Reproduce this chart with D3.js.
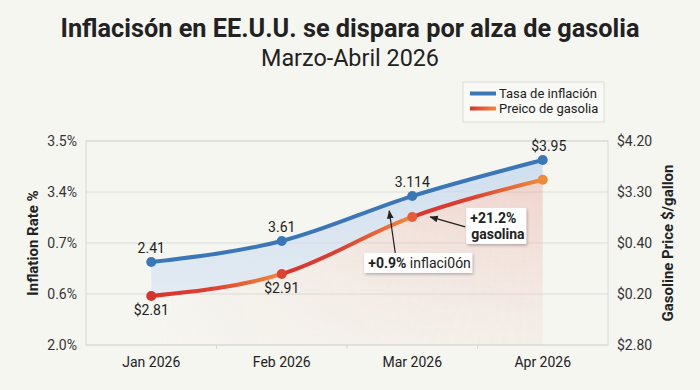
<!DOCTYPE html>
<html>
<head>
<meta charset="utf-8">
<script src="https://cdn.jsdelivr.net/npm/d3@7"></script>
<style>
  body { margin: 0; background: #f6f6f1; }
  svg { display: block; font-family: Roboto, "Noto Sans", sans-serif; }
</style>
</head>
<body>
<svg id="chart" width="700" height="390"></svg>
<script>
const months = ["Jan 2026", "Feb 2026", "Mar 2026", "Apr 2026"];
const inflation = [2.61, 2.765, 3.095, 3.36];
const gasoline = [3.136, 3.287, 3.679, 3.934];
const inflLabels = ["2.41", "3.61", "3.114", "$3.95"];
const gasLabels = ["$2.81", "$2.91", "", ""];
const leftTicks = [2.0, 2.375, 2.75, 3.125, 3.5];
const leftTickLabels = ["2.0%", "0.6%", "0.7%", "3.4%", "3.5%"];
const rightTicks = [2.8, 3.15, 3.5, 3.85, 4.2];
const rightTickLabels = ["$2.80", "$0.20", "$0.40", "$3.30", "$4.20"];

const W = 700, H = 390;
const margin = {top: 141, right: 92, bottom: 45, left: 86};
const width = W - margin.left - margin.right,
      height = H - margin.top - margin.bottom;

const BLUE = "#3b77b6", RED = "#d6352e", ORANGE = "#f08a3b";

const svg = d3.select("#chart");
const defs = svg.append("defs");

// drop shadow for callouts
const sh = defs.append("filter").attr("id", "shadow")
  .attr("x", "-20%").attr("y", "-30%").attr("width", "150%").attr("height", "170%");
sh.append("feDropShadow").attr("dx", 1).attr("dy", 1.5)
  .attr("stdDeviation", 1.5).attr("flood-color", "#000").attr("flood-opacity", 0.28);

svg.append("text")
  .attr("x", W / 2).attr("y", 37)
  .attr("text-anchor", "middle")
  .attr("font-size", 26).attr("font-weight", 700).attr("fill", "#222")
  .attr("textLength", 579).attr("lengthAdjust", "spacingAndGlyphs")
  .text("Inflacisón en EE.U.U. se dispara por alza de gasolia");
svg.append("text")
  .attr("x", W / 2).attr("y", 66)
  .attr("text-anchor", "middle")
  .attr("font-size", 24).attr("fill", "#222")
  .attr("textLength", 178).attr("lengthAdjust", "spacingAndGlyphs")
  .text("Marzo-Abril 2026");

const g = svg.append("g")
  .attr("transform", "translate(" + margin.left + "," + margin.top + ")");

const x = d3.scaleBand().domain(months).range([0, width]);
const cx = d => x(d) + x.bandwidth() / 2;
const yL = d3.scaleLinear().domain([2.0, 3.5]).range([height, 0]);
const yR = d3.scaleLinear().domain([2.8, 4.2]).range([height, 0]);

// grid + frame
g.append("g").selectAll("line").data(leftTicks).enter().append("line")
  .attr("x1", 0).attr("x2", width)
  .attr("y1", d => yL(d)).attr("y2", d => yL(d))
  .attr("stroke", "#dcdcd8").attr("stroke-width", 1);
g.append("rect").attr("width", width).attr("height", height)
  .attr("fill", "none").attr("stroke", "#d8d8d4");
g.append("g").selectAll("line").data(months.slice(1)).enter().append("line")
  .attr("x1", d => x(d)).attr("x2", d => x(d))
  .attr("y1", height).attr("y2", height + 4)
  .attr("stroke", "#d8d8d4");

const pts = months.map((m, i) => ({m, infl: inflation[i], gas: gasoline[i], i}));

// fills
const lg1 = defs.append("linearGradient").attr("id", "blueFill")
  .attr("gradientUnits", "userSpaceOnUse")
  .attr("x1", 0).attr("y1", 0).attr("x2", 0).attr("y2", height);
lg1.append("stop").attr("offset", "0%").attr("stop-color", "#c4d8ee").attr("stop-opacity", 0.85);
lg1.append("stop").attr("offset", "100%").attr("stop-color", "#dfe9f3").attr("stop-opacity", 0.6);

const lg2 = defs.append("linearGradient").attr("id", "pinkFill")
  .attr("gradientUnits", "userSpaceOnUse")
  .attr("x1", 0).attr("y1", yR(d3.max(gasoline))).attr("x2", 0).attr("y2", height);
lg2.append("stop").attr("offset", "0%").attr("stop-color", "#e6aaa0").attr("stop-opacity", 0.45);
lg2.append("stop").attr("offset", "100%").attr("stop-color", "#efd8d2").attr("stop-opacity", 0.25);

const mg = defs.append("linearGradient").attr("id", "fadeX")
  .attr("gradientUnits", "userSpaceOnUse")
  .attr("x1", cx(months[0])).attr("y1", 0).attr("x2", cx(months[3])).attr("y2", 0);
mg.append("stop").attr("offset", "0%").attr("stop-color", "#fff").attr("stop-opacity", 0.05);
mg.append("stop").attr("offset", "60%").attr("stop-color", "#fff").attr("stop-opacity", 0.8);
mg.append("stop").attr("offset", "100%").attr("stop-color", "#fff").attr("stop-opacity", 1);
defs.append("mask").attr("id", "fadeMask")
  .append("rect").attr("x", 0).attr("y", 0).attr("width", width).attr("height", height)
  .attr("fill", "url(#fadeX)");

g.append("path").datum(pts)
  .attr("fill", "url(#pinkFill)").attr("mask", "url(#fadeMask)")
  .attr("d", d3.area().curve(d3.curveMonotoneX)
    .x(d => cx(d.m)).y0(height).y1(d => yR(d.gas)));

g.append("path").datum(pts)
  .attr("fill", "url(#blueFill)")
  .attr("d", d3.area().curve(d3.curveMonotoneX)
    .x(d => cx(d.m)).y0(d => yR(d.gas)).y1(d => yL(d.infl)));

// gasoline line: each segment red -> orange
const gasLine = d3.line().curve(d3.curveMonotoneX).x(d => cx(d.m)).y(d => yR(d.gas));
for (let i = 0; i < pts.length - 1; i++) {
  const x0 = cx(pts[i].m), x1 = cx(pts[i + 1].m);
  const gr = defs.append("linearGradient").attr("id", "seg" + i)
    .attr("gradientUnits", "userSpaceOnUse")
    .attr("x1", x0).attr("y1", 0).attr("x2", x1).attr("y2", 0);
  gr.append("stop").attr("offset", "0%").attr("stop-color", RED);
  gr.append("stop").attr("offset", "45%").attr("stop-color", "#dc4030");
  gr.append("stop").attr("offset", "100%").attr("stop-color", ORANGE);
  defs.append("clipPath").attr("id", "clip" + i)
    .append("rect").attr("x", x0).attr("y", -20).attr("width", x1 - x0).attr("height", height + 40);
  g.append("path").datum(pts)
    .attr("fill", "none").attr("stroke", "url(#seg" + i + ")")
    .attr("stroke-width", 4).attr("stroke-linecap", "round")
    .attr("clip-path", "url(#clip" + i + ")")
    .attr("d", gasLine);
}

g.append("path").datum(pts)
  .attr("fill", "none").attr("stroke", BLUE).attr("stroke-width", 4)
  .attr("d", d3.line().curve(d3.curveMonotoneX).x(d => cx(d.m)).y(d => yL(d.infl)));

const ptColor = d3.scaleLinear().domain([0, 1, 2, 3])
  .range([RED, "#dc4532", "#e65d36", ORANGE]);
g.selectAll(".gpt").data(pts).enter().append("circle")
  .attr("cx", d => cx(d.m)).attr("cy", d => yR(d.gas)).attr("r", 5)
  .attr("fill", d => ptColor(d.i));
g.selectAll(".ipt").data(pts).enter().append("circle")
  .attr("cx", d => cx(d.m)).attr("cy", d => yL(d.infl)).attr("r", 5)
  .attr("fill", BLUE);

// point labels
g.selectAll(".il").data(pts).enter().append("text")
  .attr("x", d => cx(d.m) + (d.i === 3 ? 6 : 0))
  .attr("y", d => yL(d.infl) - 9)
  .attr("text-anchor", "middle").attr("font-size", 14).attr("fill", "#222")
  .text(d => inflLabels[d.i]);
g.selectAll(".gl").data(pts).enter().append("text")
  .attr("x", d => cx(d.m)).attr("y", d => yR(d.gas) + 19)
  .attr("text-anchor", "middle").attr("font-size", 14).attr("fill", "#222")
  .text(d => gasLabels[d.i]);

// axes
const axL = g.append("g").call(d3.axisLeft(yL).tickValues(leftTicks)
  .tickFormat((d, i) => leftTickLabels[i]).tickSize(0).tickPadding(9));
const axR = g.append("g").attr("transform", "translate(" + width + ",0)")
  .call(d3.axisRight(yR).tickValues(rightTicks)
  .tickFormat((d, i) => rightTickLabels[i]).tickSize(0).tickPadding(9));
const axB = g.append("g").attr("transform", "translate(0," + height + ")")
  .call(d3.axisBottom(x).tickSize(0).tickPadding(12));
[axL, axR, axB].forEach(a => {
  a.select(".domain").remove();
  a.selectAll("text").attr("font-size", 14).attr("fill", "#333")
    .attr("font-family", "Roboto, sans-serif");
});
axB.selectAll("text").attr("fill", "#222");

svg.append("text")
  .attr("transform", "translate(38," + (margin.top + height / 2) + ") rotate(-90)")
  .attr("text-anchor", "middle").attr("font-size", 15).attr("font-weight", 700).attr("fill", "#222")
  .text("Inflation Rate %");
svg.append("text")
  .attr("transform", "translate(673," + (margin.top + height / 2) + ") rotate(-90)")
  .attr("text-anchor", "middle").attr("font-size", 15).attr("font-weight", 700).attr("fill", "#222")
  .text("Gasoline Price $/gallon");

// legend
const leg = svg.append("g").attr("transform", "translate(463,82)");
leg.append("rect").attr("width", 141).attr("height", 40)
  .attr("fill", "#f9f9f6").attr("stroke", "#dcdcd8");
const lgl = defs.append("linearGradient").attr("id", "legGas");
lgl.append("stop").attr("offset", "0%").attr("stop-color", RED);
lgl.append("stop").attr("offset", "100%").attr("stop-color", ORANGE);
leg.append("rect").attr("x", 7).attr("y", 9.5).attr("width", 26).attr("height", 4).attr("fill", BLUE);
leg.append("rect").attr("x", 7).attr("y", 24.5).attr("width", 26).attr("height", 4).attr("fill", "url(#legGas)");
leg.append("text").attr("x", 36).attr("y", 16).attr("font-size", 13).attr("fill", "#222").text("Tasa de inflación");
leg.append("text").attr("x", 36).attr("y", 31).attr("font-size", 13).attr("fill", "#222").text("Preico de gasolia");

// callouts
defs.append("marker").attr("id", "arr").attr("viewBox", "0 0 10 10")
  .attr("refX", 9).attr("refY", 5).attr("markerWidth", 7).attr("markerHeight", 7)
  .attr("orient", "auto-start-reverse")
  .append("path").attr("d", "M0,1 L10,5 L0,9 z").attr("fill", "#222");

const mx = cx(months[2]);
const gasMar = yR(gasoline[2]);
const c1 = g.append("g").attr("transform", "translate(" + (mx + 54) + "," + (gasMar - 9) + ")");
c1.append("rect").attr("width", 60).attr("height", 36).attr("fill", "#fff").attr("filter", "url(#shadow)");
c1.append("text").attr("x", 4).attr("y", 15).attr("font-size", 14).attr("font-weight", 700).attr("fill", "#222").text("+21.2%");
c1.append("text").attr("x", 5).attr("y", 31).attr("font-size", 14).attr("font-weight", 700).attr("fill", "#222").text("gasolina");
g.append("line")
  .attr("x1", mx + 53).attr("y1", gasMar + 10)
  .attr("x2", mx + 18).attr("y2", gasMar)
  .attr("stroke", "#222").attr("stroke-width", 1.2).attr("marker-end", "url(#arr)");

const c2 = g.append("g").attr("transform", "translate(" + (mx - 48) + "," + (gasMar + 36) + ")");
c2.append("rect").attr("width", 108).attr("height", 20).attr("fill", "#fff").attr("filter", "url(#shadow)");
const t2 = c2.append("text").attr("x", 4).attr("y", 15).attr("font-size", 14).attr("fill", "#222");
t2.append("tspan").attr("font-weight", 700).text("+0.9%");
t2.append("tspan").text(" inflaci0ón");
g.append("line")
  .attr("x1", mx - 17).attr("y1", gasMar + 36)
  .attr("x2", mx - 23).attr("y2", gasMar - 6)
  .attr("stroke", "#222").attr("stroke-width", 1.2).attr("marker-end", "url(#arr)");
</script>
</body>
</html>
